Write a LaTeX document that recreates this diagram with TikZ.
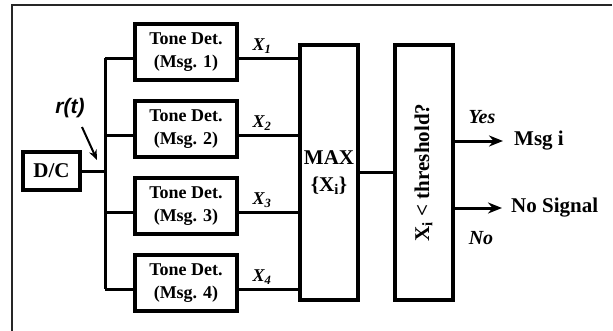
\documentclass[tikz,border=0pt]{standalone}
\usepackage{fontspec}
\setmainfont{Liberation Serif}
\newfontfamily\arialfont{Liberation Sans}
\usetikzlibrary{arrows.meta}
\tikzset{
  blk/.style={draw, line width=4pt, inner sep=0pt, align=center, font=\bfseries\fontsize{18}{23}\selectfont},
  tone/.style={blk, minimum width=102pt, minimum height=56pt},
  tall/.style={blk, minimum width=58pt, minimum height=255pt, font=\bfseries\fontsize{21}{27}\selectfont},
  wire/.style={line width=3pt},
  arr/.style={line width=3pt, -{Stealth[length=14pt,width=11pt]}},
  xlab/.style={font=\bfseries\itshape\fontsize{18}{20}\selectfont, inner sep=0pt},
  outlab/.style={font=\bfseries\fontsize{21}{24}\selectfont, inner sep=0pt, anchor=west},
  yn/.style={font=\bfseries\itshape\fontsize{20}{22}\selectfont, inner sep=0pt}
}
\begin{document}
\begin{tikzpicture}[x=1pt,y=-1pt]
\useasboundingbox (0,0) rectangle (613,330);
% frame
\draw[line width=1.5pt, black!85] (612,5) -- (12,5) -- (12,331);
% blocks
\node[blk, minimum width=57pt, minimum height=38pt, font=\bfseries\fontsize{21}{24}\selectfont] (dc) at (51.5,171) {D/C};
\node[tone] (t1) at (186,52) {Tone Det.\\(Msg. 1)};
\node[tone] (t2) at (186,129) {Tone Det.\\(Msg. 2)};
\node[tone] (t3) at (186,206) {Tone Det.\\(Msg. 3)};
\node[tone] (t4) at (186,283) {Tone Det.\\(Msg. 4)};
\node[tall] (max) at (329,172.5) {MAX\\\{X\textsubscript{i}\}};
\node[tall] (thr) at (423.5,172.5) {};
\node[rotate=90, font=\bfseries\fontsize{21}{24}\selectfont, inner sep=0pt] (thrtxt) at (thr.center) {X\textsubscript{i} < threshold?};
% bus
\coordinate (busTop) at (105,58);
\coordinate (busBot) at (105,289);
\draw[wire] (busTop) -- (busBot);
\draw[wire] (dc.east) -- (dc.east -| busTop);
\foreach \k in {1,2,3,4}{
  \draw[wire] ([yshift=-6pt]t\k.west) -- ([yshift=-6pt]t\k.west -| busTop);
  \draw[wire] ([yshift=-6pt]t\k.east) -- ([yshift=-6pt]t\k.east -| max.west);
}
% labels X
\node[xlab] (x1) at (262,46) {X\textsubscript{1}};
\node[xlab] (x2) at (262,123) {X\textsubscript{2}};
\node[xlab] (x3) at (262,200) {X\textsubscript{3}};
\node[xlab] (x4) at (262,277) {X\textsubscript{4}};
% r(t)
\node[font=\arialfont\bfseries\itshape\fontsize{21}{24}\selectfont, inner sep=0pt] (rt) at (70,108) {r(t)};
\coordinate (ra) at (82,127);
\coordinate (rb) at (97,160);
\draw[line width=2pt, -{Stealth[length=10pt,width=8pt]}] (ra) -- (rb);
% max to threshold
\draw[wire] (max.east) -- (thr.west);
% outputs
\node[outlab] (msg) at (514,141) {Msg i};
\node[outlab] (nosig) at (511,208) {No Signal};
\draw[arr] (thr.east |- msg.west) -- ([xshift=-11pt]msg.west);
\draw[arr] (thr.east |- nosig.west) -- ([xshift=-9pt]nosig.west);
\node[yn] (yes) at (482,117) {Yes};
\node[yn] (no) at (481,238) {No};
\end{tikzpicture}
\end{document}
